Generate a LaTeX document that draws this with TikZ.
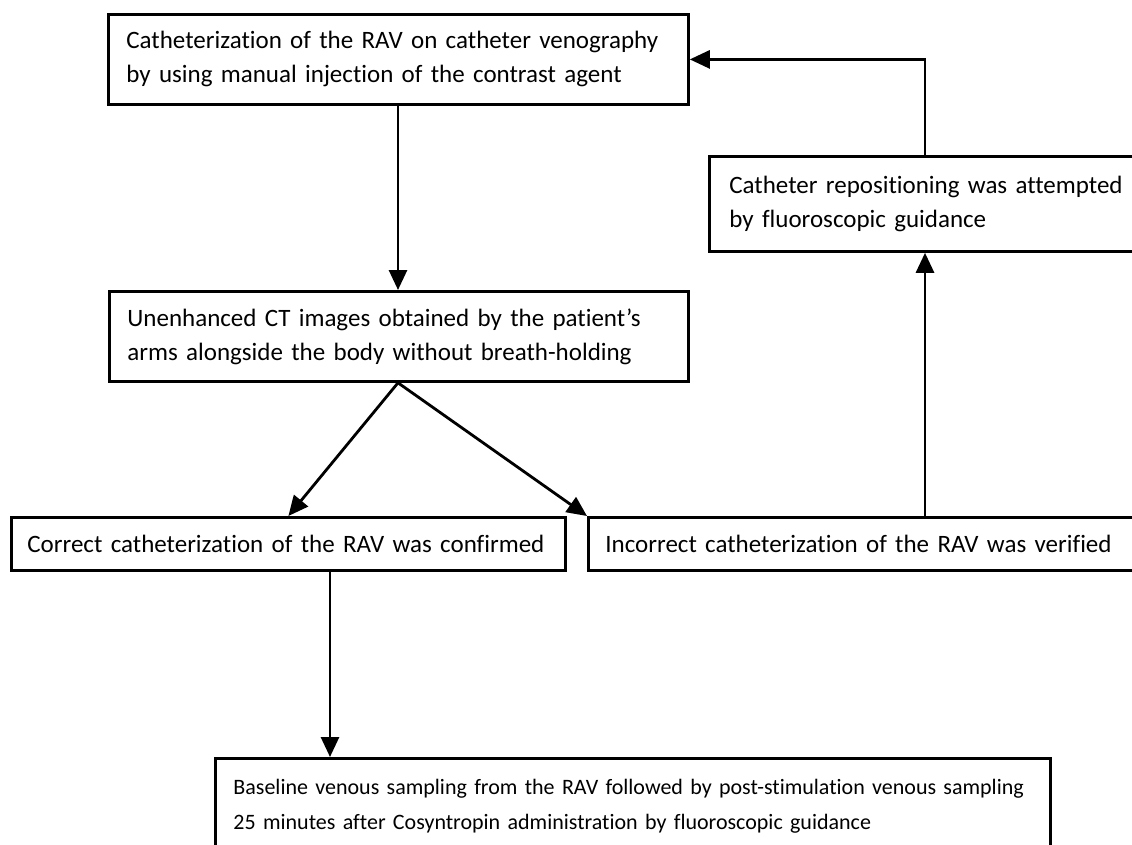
\documentclass[tikz,border=0pt]{standalone}
\usepackage{fontspec}
\setmainfont{Carlito}[Ligatures={NoCommon}]
\usetikzlibrary{arrows.meta}
\tikzstyle{box}=[draw, line width=2.8pt, anchor=north west, inner xsep=18pt, inner ysep=0pt, align=left, font=\fontsize{25}{34}\selectfont]
\tikzstyle{arr}=[line width=2.8pt, -{Triangle[length=20pt,width=18pt]}]
\newcommand{\flowbox}{\node[box]}

\begin{document}
\begin{tikzpicture}[x=1pt,y=-1pt]
\clip (0,0) rectangle (1132,844);
\fill[white] (0,0) rectangle (1132,844);
%boxes
\flowbox (cath) at (107,13) [text width=544pt, minimum height=90pt]{Catheterization of the RAV on catheter venography\\by using manual injection of the contrast agent};
\flowbox (unenh) at (108,290) [text width=543pt, minimum height=90pt]{Unenhanced CT images obtained by the patient’s\\arms alongside the body without breath-holding};
\flowbox (repos) at (708,155) [inner xsep=20pt, text width=440pt, minimum height=95pt]{Catheter repositioning was attempted\\by fluoroscopic guidance};
\flowbox (ok) at (10,516) [inner xsep=16pt, text width=522pt, minimum height=53pt]{Correct catheterization of the RAV was confirmed};
\flowbox (bad) at (587,516) [inner xsep=17pt, text width=560pt, minimum height=53pt]{Incorrect catheterization of the RAV was verified};
\flowbox (base) at (214,757) [text width=799pt, minimum height=95pt, font=\fontsize{22}{35}\selectfont]{Baseline venous sampling from the RAV followed by post-stimulation venous sampling\\25 minutes after Cosyntropin administration by fluoroscopic guidance};
%arrow columns
\coordinate (c1) at (398,0);
\coordinate (c2) at (925,0);
\coordinate (c3) at (330,0);
\draw[arr] (cath.south -| c1) -- (unenh.north -| c1);
\draw[arr] (unenh.south -| c1) -- (ok.north);
\draw[arr] (unenh.south -| c1) -- (bad.north west);
\draw[arr] (bad.north -| c2) -- (repos.south -| c2);
\draw[arr] (repos.north -| c2) |- (cath.east);
\draw[arr] (ok.south -| c3) -- (base.north -| c3);
\end{tikzpicture}
\end{document}
